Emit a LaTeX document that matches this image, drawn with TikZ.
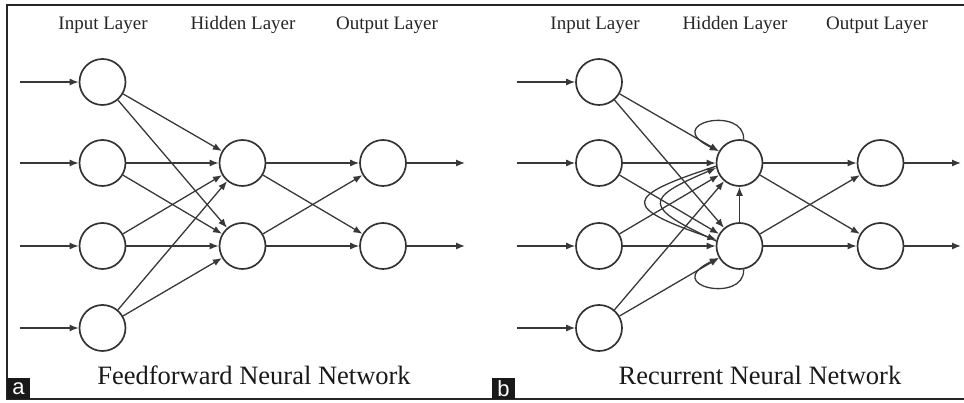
\documentclass[tikz,border=0pt]{standalone}
\usepackage{fontspec}
\setmainfont{Liberation Serif}
\setsansfont{Liberation Sans}
\usetikzlibrary{arrows.meta}

\tikzset{
  neuron/.style={circle, draw=black!80, line width=1.7pt, minimum size=46pt, inner sep=0pt},
  layer/.style={font=\fontsize{19}{22}\selectfont, text=black!85},
  netname/.style={font=\fontsize{26.5}{30}\selectfont, text=black!90},
  tag/.style={fill=black!90, text=white, minimum width=23pt, minimum height=21pt, inner sep=0pt, font=\sffamily\fontsize{22}{22}\selectfont},
  link/.style={->, draw=black!78, line width=1.3pt},
}

\begin{document}
\begin{tikzpicture}[x=1pt, y=1pt, >={Latex[length=9pt,width=7pt]}]
    \useasboundingbox (0,0) rectangle (964,403);
    \draw[line width=1.5pt, black!85] (964,398) -- (7,398) -- (7,4) -- (964,4);

    % (a) feedforward
    \node[layer] (aIn) at (103,378) {Input Layer};
    \node[layer] (aHid) at (243,378) {Hidden Layer};
    \node[layer] (aOut) at (387,378) {Output Layer};
    \node[neuron] (aI1) at (102.5,321) {};
    \node[neuron] (aI2) at (102.5,240) {};
    \node[neuron] (aI3) at (102.5,157) {};
    \node[neuron] (aI4) at (102.5,75) {};
    \node[neuron] (aH1) at (242.5,240) {};
    \node[neuron] (aH2) at (242.5,157) {};
    \node[neuron] (aO1) at (383,240) {};
    \node[neuron] (aO2) at (383,157) {};
    \coordinate (aS1) at (20,321);
    \coordinate (aS2) at (20,240);
    \coordinate (aS3) at (20,157);
    \coordinate (aS4) at (20,75);
    \coordinate (aE1) at (465,240);
    \coordinate (aE2) at (465,157);
    \foreach \i in {1,...,4} {
        \draw[link] (aS\i) to (aI\i);
        \draw[link] (aI\i) to (aH1);
        \draw[link] (aI\i) to (aH2);
    }
    \foreach \j in {1,2} {
        \draw[link] (aH\j) to (aO1);
        \draw[link] (aH\j) to (aO2);
        \draw[link] (aO\j) to (aE\j);
    }
    \node[netname] (aName) at (254,28) {Feedforward Neural Network};
    \node[tag] (aTag) at (18.5,14.5) {a};

    % (b) recurrent
    \node[layer] (bIn) at (595,378) {Input Layer};
    \node[layer] (bHid) at (735,378) {Hidden Layer};
    \node[layer] (bOut) at (877,378) {Output Layer};
    \node[neuron] (bI1) at (599,321) {};
    \node[neuron] (bI2) at (599,240) {};
    \node[neuron] (bI3) at (599,157) {};
    \node[neuron] (bI4) at (599,75) {};
    \node[neuron] (bH1) at (739.5,240) {};
    \node[neuron] (bH2) at (739.5,157) {};
    \node[neuron] (bO1) at (880.5,240) {};
    \node[neuron] (bO2) at (880.5,157) {};
    \coordinate (bS1) at (517,321);
    \coordinate (bS2) at (517,240);
    \coordinate (bS3) at (517,157);
    \coordinate (bS4) at (517,75);
    \coordinate (bE1) at (961,240);
    \coordinate (bE2) at (961,157);
    \foreach \i in {1,...,4} {
        \draw[link] (bS\i) to (bI\i);
        \draw[link] (bI\i) to (bH1);
        \draw[link] (bI\i) to (bH2);
    }
    \foreach \j in {1,2} {
        \draw[link] (bH\j) to (bO1);
        \draw[link] (bH\j) to (bO2);
        \draw[link] (bO\j) to (bE\j);
    }
    % recurrent links
    \draw[link] (bH2) to (bH1);
    \draw[link] (bH1.80) .. controls (745,298) and (660,280) .. (bH1.150);
    \draw[link] (bH2.-80) .. controls (745,99) and (660,117) .. (bH2.-150);
    \draw[link] (bH1.188) .. controls (622,206) and (622,196) .. (bH2.165);
    \draw[link] (bH2.168) .. controls (643,196) and (643,204) .. (bH1.192);
    \node[netname] (bName) at (760,28) {Recurrent Neural Network};
    \node[tag] (bTag) at (503.5,14.5) {b};
\end{tikzpicture}
\end{document}
